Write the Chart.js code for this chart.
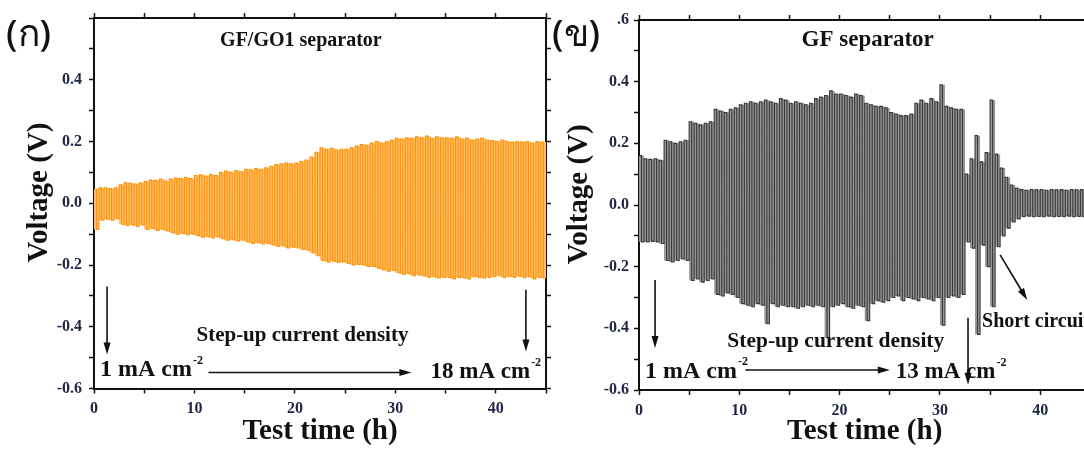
<!DOCTYPE html>
<html lang="th">
<head>
<meta charset="UTF-8">
<title>Voltage profiles, GF/GO1 and GF separators</title>
<script src="https://cdn.jsdelivr.net/npm/chart.js@4.4.1/dist/chart.umd.min.js"></script>
<style>
  html, body { margin: 0; padding: 0; background: #fff; overflow: hidden; }
  #wrap { position: relative; width: 1084px; height: 449px; overflow: hidden; }
  .panel { position: absolute; top: 0; height: 449px; }
  #left { left: 0; width: 552px; }
  #right { left: 548px; width: 550px; }
</style>
</head>
<body>
<div id="wrap">
  <div class="panel" id="left"><canvas id="chartA"></canvas></div>
  <div class="panel" id="right"><canvas id="chartB"></canvas></div>
</div>
<script>
// one plating + stripping cycle = 0.5 h, five cycles per current step
const HALF = 0.25;

// GF/GO1 separator, 1 -> 18 mA cm-2 : voltage of each positive / negative half cycle
const goUp = [
  0.045, 0.050, 0.050, 0.048, 0.050,
  0.060, 0.066, 0.065, 0.062, 0.066,
  0.070, 0.075, 0.074, 0.078, 0.072,
  0.078, 0.082, 0.080, 0.084, 0.080,
  0.090, 0.092, 0.088, 0.093, 0.090,
  0.100, 0.104, 0.100, 0.106, 0.102,
  0.110, 0.108, 0.112, 0.110, 0.115,
  0.120, 0.125, 0.128, 0.130, 0.128,
  0.130, 0.135, 0.140, 0.150, 0.165,
  0.180, 0.175, 0.178, 0.172, 0.175,
  0.175, 0.180, 0.185, 0.190, 0.188,
  0.195, 0.200, 0.195, 0.200, 0.205,
  0.210, 0.208, 0.212, 0.210, 0.215,
  0.212, 0.218, 0.210, 0.215, 0.212,
  0.212, 0.210, 0.215, 0.208, 0.210,
  0.205, 0.208, 0.210, 0.205, 0.203,
  0.200, 0.205, 0.200, 0.198, 0.200,
  0.198, 0.200, 0.195, 0.200, 0.198
];
const goDown = [
  -0.085, -0.055, -0.052, -0.055, -0.050,
  -0.068, -0.072, -0.070, -0.075, -0.070,
  -0.085, -0.082, -0.088, -0.085, -0.090,
  -0.095, -0.100, -0.098, -0.102, -0.100,
  -0.105, -0.110, -0.108, -0.112, -0.108,
  -0.115, -0.120, -0.118, -0.122, -0.120,
  -0.125, -0.130, -0.128, -0.132, -0.130,
  -0.135, -0.140, -0.138, -0.145, -0.142,
  -0.145, -0.150, -0.152, -0.160, -0.170,
  -0.185, -0.190, -0.188, -0.192, -0.190,
  -0.195, -0.200, -0.198, -0.200, -0.205,
  -0.205, -0.210, -0.215, -0.220, -0.218,
  -0.225, -0.230, -0.228, -0.235, -0.232,
  -0.235, -0.240, -0.238, -0.242, -0.240,
  -0.240, -0.245, -0.240, -0.242, -0.245,
  -0.238, -0.240, -0.242, -0.240, -0.238,
  -0.235, -0.240, -0.238, -0.240, -0.236,
  -0.240, -0.238, -0.245, -0.240, -0.242
];

// GF separator, 1 -> 13 mA cm-2, then short circuit from 32.5 h
const gfUp = [
  0.160, 0.150, 0.148, 0.150, 0.145,
  0.210, 0.205, 0.200, 0.205, 0.210,
  0.270, 0.265, 0.260, 0.265, 0.270,
  0.310, 0.305, 0.300, 0.310, 0.315,
  0.325, 0.330, 0.335, 0.330, 0.335,
  0.340, 0.335, 0.330, 0.345, 0.340,
  0.330, 0.335, 0.330, 0.325, 0.330,
  0.345, 0.350, 0.355, 0.370, 0.360,
  0.360, 0.355, 0.350, 0.360, 0.355,
  0.330, 0.325, 0.320, 0.320, 0.315,
  0.300, 0.295, 0.290, 0.290, 0.295,
  0.330, 0.340, 0.330, 0.345, 0.335,
  0.390, 0.320, 0.315, 0.310, 0.310,
  0.100, 0.150, 0.225, 0.140, 0.170, 0.340, 0.165, 0.120, 0.090, 0.065, 0.055,
  0.050, 0.048, 0.050, 0.049, 0.050, 0.048, 0.050, 0.049, 0.050, 0.048, 0.050, 0.049, 0.050, 0.048
];
const gfDown = [
  -0.120, -0.120, -0.118, -0.120, -0.125,
  -0.180, -0.185, -0.180, -0.175, -0.180,
  -0.245, -0.240, -0.250, -0.245, -0.240,
  -0.290, -0.295, -0.285, -0.290, -0.300,
  -0.320, -0.325, -0.330, -0.320, -0.325,
  -0.385, -0.320, -0.330, -0.325, -0.330,
  -0.330, -0.335, -0.330, -0.325, -0.330,
  -0.325, -0.330, -0.430, -0.330, -0.325,
  -0.320, -0.330, -0.335, -0.325, -0.330,
  -0.375, -0.320, -0.310, -0.315, -0.310,
  -0.300, -0.295, -0.310, -0.300, -0.305,
  -0.310, -0.300, -0.305, -0.310, -0.300,
  -0.390, -0.300, -0.295, -0.300, -0.290,
  -0.120, -0.140, -0.420, -0.130, -0.200, -0.330, -0.135, -0.100, -0.075, -0.055, -0.045,
  -0.038, -0.036, -0.038, -0.037, -0.038, -0.036, -0.038, -0.037, -0.038, -0.036, -0.038, -0.037, -0.038, -0.036
];

// positive half first; flip=true gives the opposite half, used only to shade the band
function squareWave(up, down, flip) {
  const pts = [];
  up.forEach((v, i) => {
    const t = i * 2 * HALF;
    const a = flip ? down[i] : v, b = flip ? v : down[i];
    pts.push({x: t, y: a}, {x: t + HALF, y: a}, {x: t + HALF, y: b}, {x: t + 2 * HALF, y: b});
  });
  return pts;
}

const serif = '"Liberation Serif", "Times New Roman", serif';
const ink = '#111';
const tickInk = '#1c2644';

// headings, labels and arrows drawn on top of each panel
const panelNotes = {
  id: 'panelNotes',
  afterDraw(chart, args, o) {
    const {ctx, scales: {x, y}} = chart;
    const px = v => x.getPixelForValue(v), py = v => y.getPixelForValue(v);
    ctx.save();
    ctx.fillStyle = ink;
    ctx.strokeStyle = ink;

    ctx.font = `bold ${o.headSize}px ${serif}`;
    ctx.textAlign = 'center';
    ctx.textBaseline = 'alphabetic';
    ctx.fillText(o.heading, px(o.headAt[0]), py(o.headAt[1]));

    ctx.save();
    ctx.translate(o.yTitleX, py(0.035));
    ctx.rotate(-Math.PI / 2);
    ctx.font = `bold 29px ${serif}`;
    ctx.textBaseline = 'middle';
    ctx.fillText('Voltage (V)', 0, 0);
    ctx.restore();

    ctx.textAlign = 'left';
    o.labels.forEach(l => {
      ctx.font = `bold ${l.size}px ${serif}`;
      const lx = px(l.at[0]), ly = py(l.at[1]);
      ctx.fillText(l.text, lx, ly);
      if (l.sup) {
        const w = ctx.measureText(l.text).width;
        ctx.font = `bold ${Math.round(l.size * 0.5)}px ${serif}`;
        ctx.fillText(l.sup, lx + w + 1, ly - l.size * 0.52);
      }
    });

    o.arrows.forEach(a => {
      const x1 = px(a.from[0]), y1 = py(a.from[1]), x2 = px(a.to[0]), y2 = py(a.to[1]);
      const ang = Math.atan2(y2 - y1, x2 - x1);
      const head = 12, half = 3.5;
      const c = Math.cos(ang), s = Math.sin(ang);
      ctx.lineWidth = 1.6;
      ctx.beginPath();
      ctx.moveTo(x1, y1);
      ctx.lineTo(x2 - c * head * 0.8, y2 - s * head * 0.8);
      ctx.stroke();
      ctx.beginPath();
      ctx.moveTo(x2, y2);
      ctx.lineTo(x2 - head * c + half * s, y2 - head * s - half * c);
      ctx.lineTo(x2 - head * c - half * s, y2 - head * s + half * c);
      ctx.closePath();
      ctx.fill();
    });

    // panel letter sits on a white patch, as in the figure
    const t = o.tag;
    ctx.fillStyle = '#fff';
    ctx.fillRect(t.box[0], t.box[1], t.box[2], t.box[3]);
    ctx.fillStyle = ink;
    ctx.font = `500 37px "Noto Sans", "DejaVu Sans", sans-serif`;
    ctx.textBaseline = 'alphabetic';
    ctx.fillText(t.text, t.x, t.y);
    ctx.restore();
  }
};

function axes(yWidth, xHeight, labelPad) {
  const tickFont = {family: serif, size: 16, weight: 'bold'};
  const frame = {color: ink, width: 2};
  const marks = {drawOnChartArea: false, tickLength: 5, tickColor: ink, tickWidth: 1.5};
  return {
    x: {
      type: 'linear', min: 0, max: 45, position: 'bottom',
      ticks: {stepSize: 5, autoSkip: false, maxRotation: 0, font: tickFont, color: tickInk, padding: 6,
              callback: v => v % 10 === 0 ? String(v) : ''},
      grid: marks, border: frame,
      title: {display: true, text: 'Test time (h)', color: ink, padding: {top: 0, bottom: 0},
              font: {family: serif, size: 29, weight: 'bold'}},
      afterFit: s => { s.height = xHeight; }
    },
    x2: {
      type: 'linear', min: 0, max: 45, position: 'top',
      ticks: {stepSize: 5, display: false}, grid: marks, border: frame,
      afterFit: s => { s.height = 5; }
    },
    y: {
      type: 'linear', min: -0.6, max: 0.6, position: 'left',
      ticks: {stepSize: 0.1, autoSkip: false, font: tickFont, color: tickInk, padding: labelPad,
              callback: v => Math.round(v * 10) % 2 === 0 ? v.toFixed(1) : ''},
      grid: marks, border: frame,
      afterFit: s => { s.width = yWidth; }
    },
    y2: {
      type: 'linear', min: -0.6, max: 0.6, position: 'right',
      ticks: {stepSize: 0.1, display: false}, grid: marks, border: frame,
      afterFit: s => { s.width = 5; }
    }
  };
}

function makeChart(id, up, down, line, band, padding, sizes, notes) {
  return new Chart(document.getElementById(id), {
    type: 'line',
    data: {
      datasets: [{
        data: squareWave(up, down, false),
        borderColor: line,
        backgroundColor: band,
        borderWidth: 1.1,
        pointRadius: 0,
        tension: 0,
        fill: '+1'
      }, {
        data: squareWave(up, down, true),
        borderColor: 'rgba(0,0,0,0)',
        borderWidth: 0,
        pointRadius: 0,
        tension: 0,
        fill: false
      }]
    },
    options: {
      responsive: true,
      maintainAspectRatio: false,
      animation: false,
      events: [],
      layout: {padding: padding},
      scales: axes(sizes[0], sizes[1], sizes[2]),
      plugins: {legend: {display: false}, tooltip: {enabled: false}, panelNotes: notes}
    },
    plugins: [panelNotes]
  });
}

makeChart('chartA', goUp, goDown, 'rgb(255,146,0)', 'rgb(255,190,110)',
  {top: 13, left: 0, right: 0, bottom: 0}, [94, 60.5, 7], {
    heading: 'GF/GO1 separator', headSize: 20, headAt: [20.6, 0.51],
    yTitleX: 40,
    tag: {text: '(ก)', x: 6, y: 46, box: [0, 4, 86, 50]},
    labels: [
      {text: 'Step-up current density', size: 21, at: [10.2, -0.447]},
      {text: '1 mA cm', sup: '-2', size: 24, at: [0.6, -0.56]},
      {text: '18 mA cm', sup: '-2', size: 23, at: [33.5, -0.565]}
    ],
    arrows: [
      {from: [1.3, -0.27], to: [1.3, -0.49]},
      {from: [43.0, -0.28], to: [43.0, -0.48]},
      {from: [11.4, -0.548], to: [31.6, -0.548]}
    ]
  });

makeChart('chartB', gfUp, gfDown, 'rgb(55,55,55)', 'rgb(150,150,150)',
  {top: 15, left: 0, right: 2.6, bottom: 0}, [91, 59, 5], {
    heading: 'GF separator', headSize: 23, headAt: [22.8, 0.515],
    yTitleX: 32,
    tag: {text: '(ข)', x: 4, y: 46, box: [4, 4, 65, 50]},
    labels: [
      {text: 'Step-up current density', size: 21.5, at: [8.8, -0.46]},
      {text: '1 mA cm', sup: '-2', size: 24, at: [0.6, -0.56]},
      {text: '13 mA cm', sup: '-2', size: 23, at: [25.6, -0.56]},
      {text: 'Short circuit', size: 20, at: [34.2, -0.395]}
    ],
    arrows: [
      {from: [1.6, -0.243], to: [1.6, -0.464]},
      {from: [32.8, -0.366], to: [32.8, -0.583]},
      {from: [10.6, -0.535], to: [25.0, -0.535]},
      {from: [36.0, -0.162], to: [38.7, -0.308]}
    ]
  });
</script>
</body>
</html>
